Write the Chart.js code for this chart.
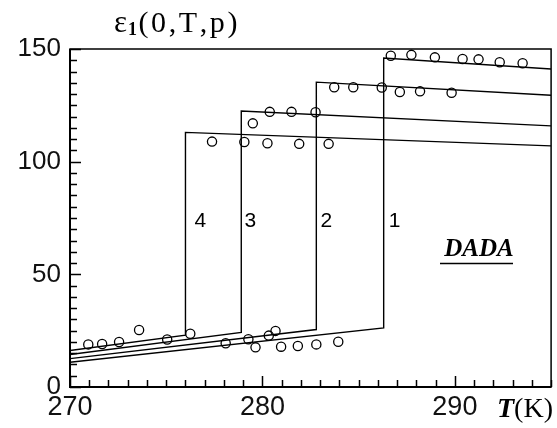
<!DOCTYPE html>
<html>
<head>
<meta charset="utf-8">
<script src="https://cdn.jsdelivr.net/npm/chart.js@4"></script>
<style>
  html, body { margin: 0; padding: 0; background: #fff; }
  canvas { display: block; }
</style>
</head>
<body>
<canvas id="c" width="557" height="428"></canvas>
<script>
// ---- data ----
const curveNames   = ['1', '2', '3', '4'];
const transitionT  = [286.3, 282.8, 278.9, 276.0];
const lowStart     = [11.0, 12.6, 14.4, 16.2];   // value at T = 270
const lowEnd       = [26.2, 25.5, 24.2, 23.0];   // value just below transition
const highStart    = [146.0, 135.3, 122.5, 113.0]; // value just above transition
const highEnd      = [141.1, 129.5, 115.9, 107.0]; // value at T = 295
const curveRange   = [270, 295];

const measuredT   = [277.38, 279.06, 280.26, 281.91, 283.44,
                     279.50, 280.38, 281.51, 282.76,
                     283.73, 284.72, 286.20, 287.14, 288.19, 289.83,
                     286.67, 287.74, 288.96, 290.40, 291.23, 292.33, 293.52,
                     270.95, 271.67, 272.55, 273.59, 275.05, 276.25, 278.09, 279.27,
                     279.64, 280.33, 280.68, 280.97, 281.84, 282.80, 283.94];
const measuredEps = [108.9, 108.7, 108.2, 107.9, 107.9,
                     117.0, 122.1, 122.1, 121.9,
                     133.0, 133.0, 132.9, 130.9, 131.2, 130.6,
                     147.0, 147.4, 146.3, 145.6, 145.4, 144.1, 143.7,
                     18.9, 19.1, 20.0, 25.3, 21.1, 23.6, 19.4, 21.2,
                     17.6, 22.8, 24.9, 17.9, 18.2, 18.9, 20.1];

const xTickLabels = [270, 280, 290];
const yTickLabels = [0, 50, 100, 150];
const xLimits = [270, 295];
const yLimits = [0, 150];

// ---- datasets ----
const datasets = [];
curveNames.forEach((name, i) => {
  datasets.push({
    type: 'line',
    label: 'curve ' + name,
    data: [
      { x: curveRange[0], y: lowStart[i] },
      { x: transitionT[i], y: lowEnd[i] },
      { x: transitionT[i], y: highStart[i] },
      { x: curveRange[1], y: highEnd[i] }
    ],
    borderColor: '#000',
    borderWidth: 1.4,
    pointRadius: 0,
    tension: 0,
    fill: false,
    order: 2
  });
});
datasets.push({
  type: 'scatter',
  label: 'DADA',
  data: measuredT.map((t, i) => ({ x: t, y: measuredEps[i] })),
  pointStyle: 'circle',
  pointRadius: 4.6,
  pointBorderWidth: 1.3,
  borderColor: '#000',
  backgroundColor: 'rgba(0,0,0,0)',
  order: 1
});

// ---- decorations plugin ----
const deco = {
  id: 'deco',
  afterDraw(chart) {
    const ctx = chart.ctx;
    const a = chart.chartArea;
    const xs = chart.scales.x, ys = chart.scales.y;
    ctx.save();
    ctx.strokeStyle = '#000';
    ctx.fillStyle = '#000';

    // frame
    ctx.lineWidth = 1.5;
    ctx.strokeRect(a.left, a.top, a.right - a.left, a.bottom - a.top);
    ctx.lineWidth = 2;
    ctx.beginPath();
    ctx.moveTo(a.left, a.top); ctx.lineTo(a.left, a.bottom); ctx.lineTo(a.right, a.bottom);
    ctx.stroke();

    // inward ticks
    ctx.lineWidth = 1.5;
    ctx.beginPath();
    for (let v = xs.min; v <= xs.max + 1e-6; v += 1) {
      const px = Math.round(xs.getPixelForValue(v)) + 0.5;
      const len = (Math.round(v) % 10 === 0) ? 11 : 7;
      ctx.moveTo(px, a.bottom); ctx.lineTo(px, a.bottom - len);
    }
    for (let v = ys.min; v <= ys.max + 1e-6; v += 5) {
      const py = Math.round(ys.getPixelForValue(v)) + 0.5;
      const len = (Math.round(v) % 50 === 0) ? 11 : 7;
      ctx.moveTo(a.left, py); ctx.lineTo(a.left + len, py);
    }
    ctx.stroke();

    // curve numbers
    ctx.font = '21px "Liberation Sans", Arial, sans-serif';
    ctx.textAlign = 'center';
    ctx.textBaseline = 'middle';
    const offs = [11, 10, 9, 15];
    curveNames.forEach((n, i) => {
      ctx.fillText(n, xs.getPixelForValue(transitionT[i]) + offs[i], ys.getPixelForValue(73.5));
    });

    // DADA label
    ctx.font = 'bold italic 25px "Liberation Serif", "Times New Roman", serif';
    ctx.textAlign = 'center';
    ctx.textBaseline = 'alphabetic';
    ctx.fillText('DADA', 479, 256);
    ctx.lineWidth = 1.6;
    ctx.beginPath();
    ctx.moveTo(440, 263.5); ctx.lineTo(513, 263.5);
    ctx.stroke();

    // y title: ε1(0,T,p)
    ctx.textAlign = 'left';
    ctx.font = '31px "Liberation Serif", "Times New Roman", serif';
    let x = 114;
    const by = 32;
    ctx.fillText('ε', x, by);
    x += ctx.measureText('ε').width + 1;
    ctx.font = 'bold 18px "Liberation Serif", "Times New Roman", serif';
    ctx.fillText('1', x, by + 3);
    x += ctx.measureText('1').width + 1.5;
    ctx.font = '30px "Liberation Serif", "Times New Roman", serif';
    const parts = ['(', '0', ',', 'T', ',', 'p', ')'];
    parts.forEach(p => {
      ctx.fillText(p, x, by);
      x += ctx.measureText(p).width + 2.6;
    });

    // x title: T(K)
    ctx.font = 'bold italic 28px "Liberation Serif", "Times New Roman", serif';
    ctx.fillText('T', 497, 417);
    let tx = 497 + ctx.measureText('T').width;
    ctx.font = '28px "Liberation Serif", "Times New Roman", serif';
    ctx.fillText('(K)', tx, 417);

    ctx.restore();
  }
};

new Chart(document.getElementById('c'), {
  data: { datasets },
  options: {
    responsive: false,
    devicePixelRatio: 1,
    animation: false,
    layout: { padding: { top: 49, right: 5, left: 0, bottom: 0 } },
    plugins: { legend: { display: false }, tooltip: { enabled: false }, title: { display: false } },
    scales: {
      x: {
        type: 'linear',
        min: xLimits[0],
        max: xLimits[1],
        afterBuildTicks: s => { s.ticks = xTickLabels.map(v => ({ value: v })); },
        afterFit: s => { s.height = 41; },
        grid: { display: false, drawTicks: false },
        border: { display: false },
        ticks: {
          color: '#111',
          padding: 4,
          maxRotation: 0,
          autoSkip: false,
          font: { family: '"Liberation Sans", Arial, sans-serif', size: 27 }
        }
      },
      y: {
        type: 'linear',
        min: yLimits[0],
        max: yLimits[1],
        afterBuildTicks: s => { s.ticks = yTickLabels.map(v => ({ value: v })); },
        afterFit: s => { s.width = 70; },
        grid: { display: false, drawTicks: false },
        border: { display: false },
        ticks: {
          color: '#111',
          padding: 9,
          autoSkip: false,
          font: { family: '"Liberation Sans", Arial, sans-serif', size: 26 }
        }
      }
    }
  },
  plugins: [deco]
});
</script>
</body>
</html>
